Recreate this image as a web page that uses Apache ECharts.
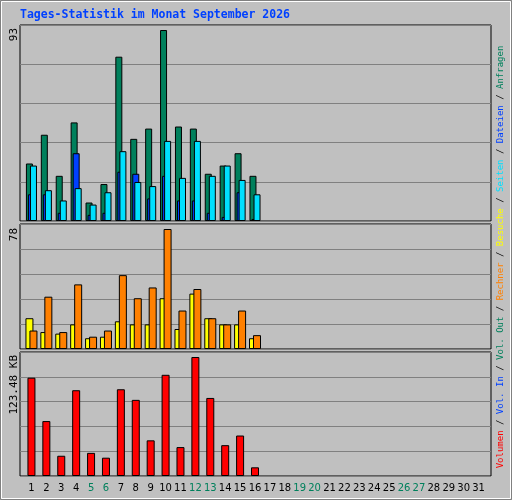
<!DOCTYPE html>
<html><head><meta charset="utf-8">
<script src="https://cdn.jsdelivr.net/npm/echarts@6/dist/echarts.min.js"></script>
<style>html,body{margin:0;padding:0;background:#c0c0c0}#c{width:512px;height:500px}</style>
</head><body><div id="c"></div>
<script>
const days = Array.from({length:31},(_,i)=>String(i+1));
const weekendDays = [5,6,12,13,19,20,26,27];
const anfragen = [28,42,22,48,9,18,80,40,45,93,46,45,23,27,33,22];
const dateien  = [13,13,4,33,3,4,24,23,11,22,10,10,4,2,14,1];
const seiten   = [27,15,10,16,8,14,34,19,17,39,21,39,22,27,20,13];
const besuche  = [20,11,10,16,7,8,18,16,16,33,13,36,20,16,16,7];
const rechner  = [12,34,11,42,8,12,48,33,40,78,25,39,20,16,25,9];
const volumenKB= [102,57,21,89,24,19,90,79,37,105,30,123.48,81,32,42,9];
const yLabels = ['93','78','123.48 KB'];

const panels = [{top:25,height:196},{top:224,height:125},{top:352,height:124}];
const maxes = [93*196/191, 78*125/120, 123.48*124/119];
const series=[];
function bar(name,data,color,pi,w,gap){
  series.push({type:'bar',name,data,xAxisIndex:3+pi,yAxisIndex:3+pi,barWidth:w,barGap:gap,
    itemStyle:{color,borderColor:'#000',borderWidth:1},animation:false});
}
bar('Anfragen',anfragen,'#00805c',0,7,'-71%');
bar('Dateien',dateien,'#0040ff',0,7,'-71%');
bar('Seiten',seiten,'#00e0ff',0,7,'-71%');
bar('Besuche',besuche,'#ffff00',1,8,'-50%');
bar('Rechner',rechner,'#ff8000',1,8,'-50%');
bar('Volumen',volumenKB,'#ff0000',2,8,'0%');

const grid=[], xAxis=[], yAxis=[];
panels.forEach((p,i)=>{
  grid.push({left:20,right:21,top:p.top,height:p.height,show:true,borderColor:'#000',borderWidth:1,backgroundColor:'#c0c0c0'});
  xAxis.push({type:'value',gridIndex:i,min:0,max:1,show:false});
  yAxis.push({type:'value',gridIndex:i,min:0,max:maxes[i],interval:maxes[i]/5,
    axisLine:{show:false},axisTick:{show:false},axisLabel:{show:false},
    splitLine:{lineStyle:{color:'#808080',width:1}}});
});
panels.forEach((p,i)=>{
  grid.push({left:24,right:26,top:p.top,height:p.height});
  xAxis.push({type:'category',gridIndex:3+i,data:days,
    axisLine:{show:false},axisTick:{show:false},splitLine:{show:false},
    axisLabel:{show:i===2,interval:0,margin:7,fontFamily:'DejaVu Sans',fontSize:10,color:'#000',
      formatter:v=>weekendDays.includes(+v)?'{w|'+v+'}':v,
      rich:{w:{color:'#00805c',fontFamily:'DejaVu Sans',fontSize:10}}}});
  yAxis.push({type:'value',gridIndex:3+i,min:0,max:maxes[i],show:false,splitLine:{show:false}});
});

const ytxt=[28,228,355];
const graphic=[
 {type:'rect',shape:{x:0.5,y:0.5,width:511,height:499},style:{fill:null,stroke:'#808080',lineWidth:1}},
 {type:'rect',shape:{x:1.5,y:1.5,width:509,height:497},style:{fill:null,stroke:'#fff',lineWidth:1}},
 {type:'text',x:20,y:15,style:{text:'Tages-Statistik im Monat September 2026',fill:'#0040ff',
   font:'bold 11.5px "DejaVu Sans Mono"',verticalAlign:'middle'}},
 ...yLabels.map((t,i)=>({type:'text',x:14,y:ytxt[i],rotation:Math.PI/2,
   style:{text:t,fill:'#000',font:'11px "DejaVu Sans Mono"',align:'right',verticalAlign:'middle'}})),
 {type:'text',x:501,y:257,rotation:Math.PI/2,style:{
   text:'{r|Volumen} / {b|Vol. In} / {g|Vol. Out} / {o|Rechner} / {y|Besuche} / {c|Seiten} / {b|Dateien} / {g|Anfragen}',
   font:'9px "DejaVu Sans Mono"',fill:'#000',align:'center',verticalAlign:'middle',
   rich:{r:{fill:'#ff0000'},b:{fill:'#0040ff'},g:{fill:'#00805c'},o:{fill:'#ff8000'},y:{fill:'#ffff00'},c:{fill:'#00e0ff'}}}}
];
const chart=echarts.init(document.getElementById('c'),null,{renderer:'canvas'});
chart.setOption({backgroundColor:'#c0c0c0',animation:false,grid,xAxis,yAxis,series,graphic});
</script></body></html>
